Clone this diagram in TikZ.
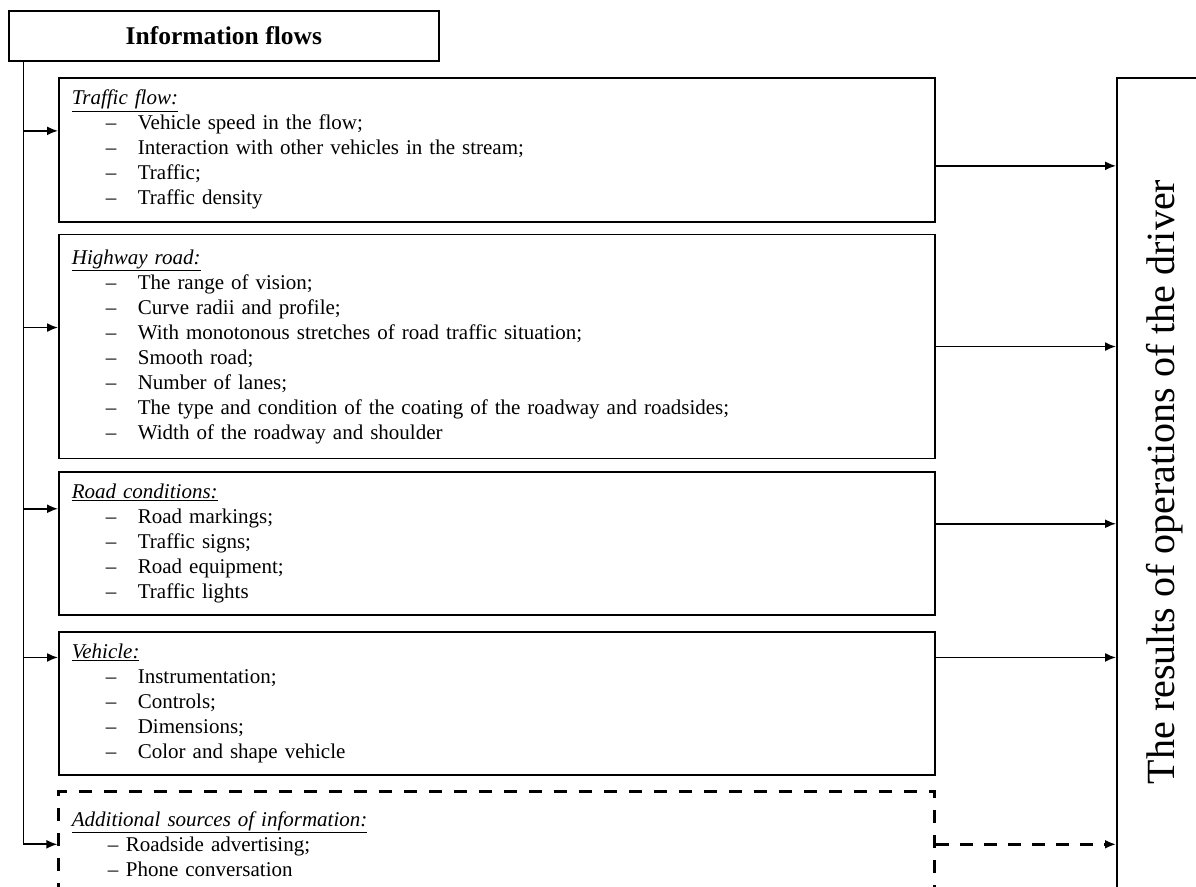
\documentclass[tikz,border=0pt]{standalone}
\usepackage{fontspec}
\setmainfont{Liberation Serif}
\usetikzlibrary{positioning,arrows.meta}

\newcommand{\flowhead}[1]{\underline{\textit{#1}}}
\newcommand{\flowitem}[1]{\\\hspace*{34pt}\makebox[32pt][l]{--}#1}
\newcommand{\extraitem}[1]{\\\hspace*{36pt}\makebox[18pt][l]{--}#1}

\begin{document}
\begin{tikzpicture}[
    x=1pt, y=1pt,
    titlebox/.style={draw, line width=1.7pt, anchor=north west, minimum width=430pt, minimum height=50pt, font=\fontsize{25.5}{29}\selectfont\bfseries},
    infobox/.style={draw, line width=1.7pt, align=left, text width=850pt, inner xsep=13pt, inner ysep=0pt, minimum width=876pt, font=\fontsize{21}{25}\selectfont},
    extrabox/.style={dash pattern=on 13pt off 12pt, line width=3pt},
    driverbox/.style={draw, line width=1.7pt, anchor=north west, minimum width=200pt, minimum height=900pt},
    drivertext/.style={rotate=90, font=\fontsize{40}{48}\selectfont},
    flowline/.style={line width=1.7pt},
    flowarrow/.style={-{Latex[length=11pt,width=9pt]}, line width=1.7pt}
]
\path[use as bounding box] (0,0) rectangle (1196,-886);
\clip (0,0) rectangle (1196,-886);

\node[titlebox] (title) at (8,-10) {Information flows};

\node[infobox, anchor=north west, minimum height=144pt] (traffic) at (58,-77)
    {\flowhead{Traffic flow:}
     \flowitem{Vehicle speed in the flow;}
     \flowitem{Interaction with other vehicles in the stream;}
     \flowitem{Traffic;}
     \flowitem{Traffic density}};
\node[infobox, minimum height=224pt, below=11pt of traffic] (highway)
    {\flowhead{Highway road:}
     \flowitem{The range of vision;}
     \flowitem{Curve radii and profile;}
     \flowitem{With monotonous stretches of road traffic situation;}
     \flowitem{Smooth road;}
     \flowitem{Number of lanes;}
     \flowitem{The type and condition of the coating of the roadway and roadsides;}
     \flowitem{Width of the roadway and shoulder}};
\node[infobox, minimum height=143pt, below=12pt of highway] (conditions)
    {\flowhead{Road conditions:}
     \flowitem{Road markings;}
     \flowitem{Traffic signs;}
     \flowitem{Road equipment;}
     \flowitem{Traffic lights}};
\node[infobox, minimum height=143pt, below=15pt of conditions] (vehicle)
    {\flowhead{Vehicle:}
     \flowitem{Instrumentation;}
     \flowitem{Controls;}
     \flowitem{Dimensions;}
     \flowitem{Color and shape vehicle}};
\node[infobox, extrabox, minimum height=106pt, below=14pt of vehicle] (extra)
    {\flowhead{Additional sources of information:}
     \extraitem{Roadside advertising;}
     \extraitem{Phone conversation}};

\node[driverbox] (driver) at (1116,-77) {};
\node[drivertext] (drivertitle) at (1165,-482) {The results of operations of the driver};

% left spine
\coordinate (spine) at ([xshift=-34pt]extra.west);
\draw[flowline] (title.south -| spine) -- (spine);
\draw[flowarrow] ([yshift=19pt]traffic.west -| spine) -- ([yshift=19pt]traffic.west);
\draw[flowarrow] ([yshift=19pt]highway.west -| spine) -- ([yshift=19pt]highway.west);
\draw[flowarrow] ([yshift=35pt]conditions.west -| spine) -- ([yshift=35pt]conditions.west);
\draw[flowarrow] ([yshift=46pt]vehicle.west -| spine) -- ([yshift=46pt]vehicle.west);
\draw[flowarrow] (spine) -- (extra.west);

% to the driver
\draw[flowarrow] ([yshift=-16pt]traffic.east) -- ([yshift=-16pt]traffic.east -| driver.west);
\draw[flowarrow] (highway.east) -- (highway.east -| driver.west);
\draw[flowarrow] ([yshift=20pt]conditions.east) -- ([yshift=20pt]conditions.east -| driver.west);
\draw[flowarrow] ([yshift=46pt]vehicle.east) -- ([yshift=46pt]vehicle.east -| driver.west);
\draw[flowarrow, dash pattern=on 13pt off 11pt, line width=3pt] (extra.east) -- (extra.east -| driver.west);
\end{tikzpicture}
\end{document}
